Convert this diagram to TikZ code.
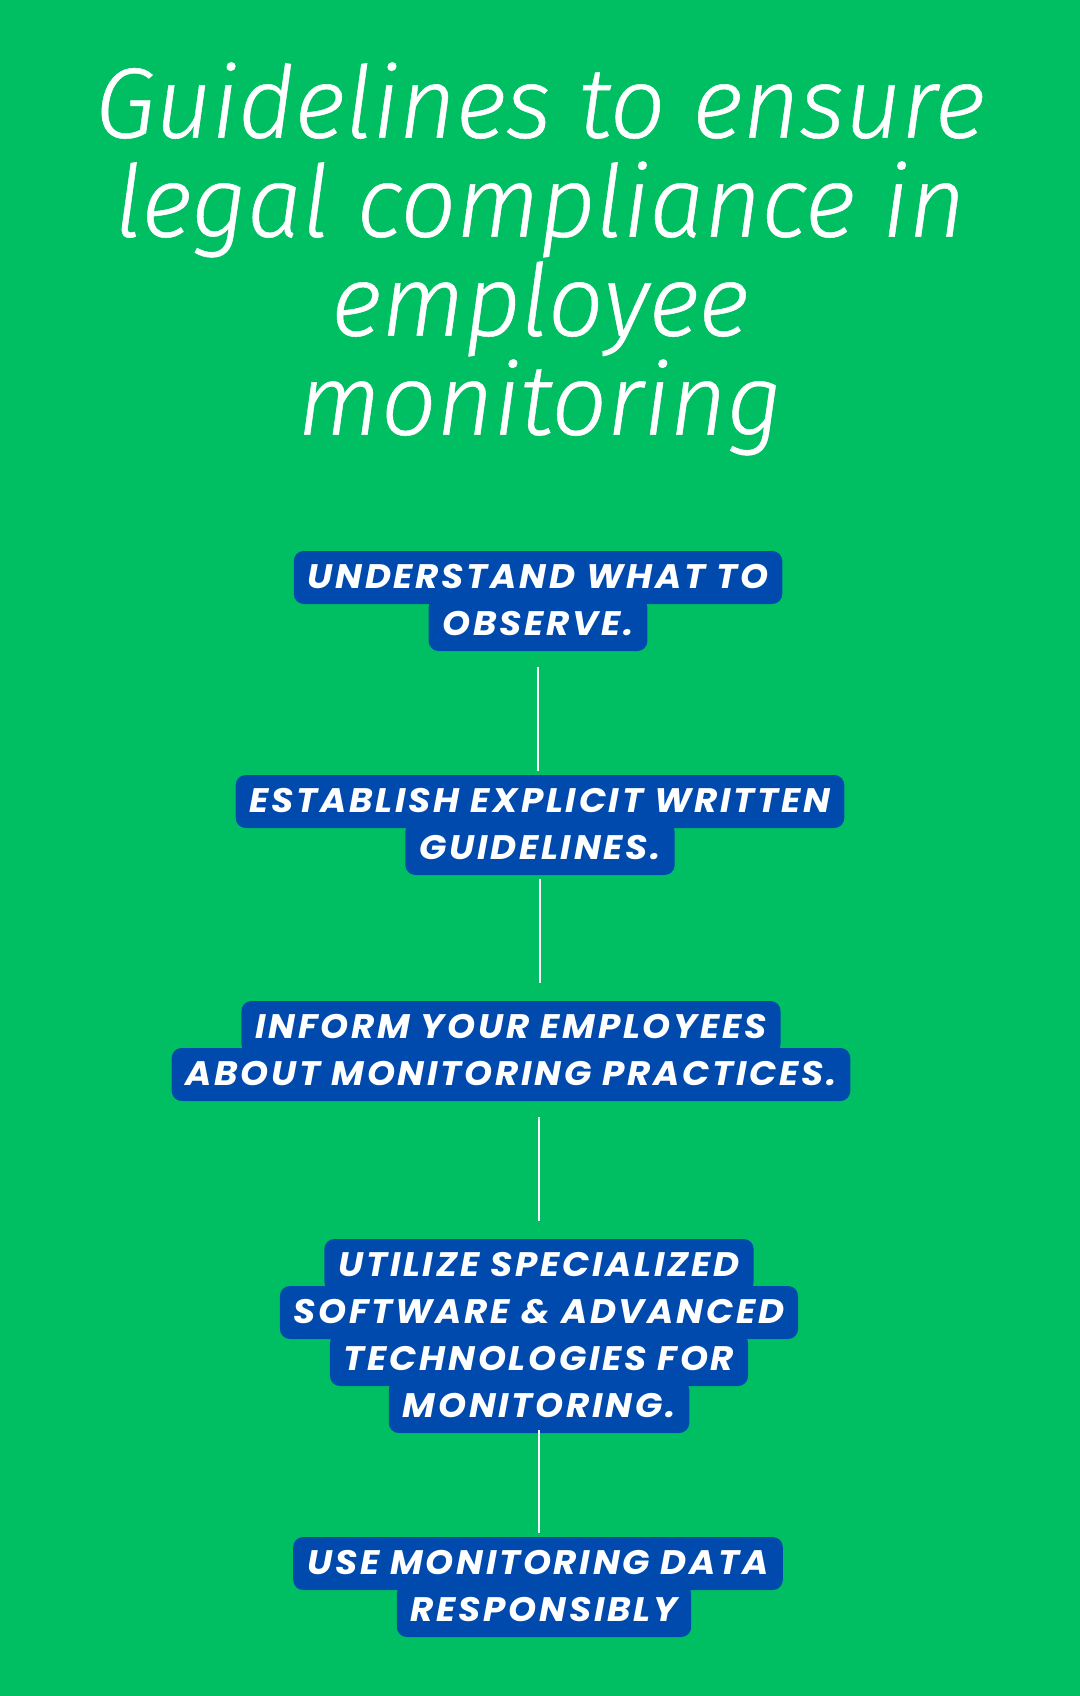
\documentclass[tikz,border=0pt]{standalone}
\usepackage{fontspec}
\usepackage{tikz}
\usetikzlibrary{positioning}
\newfontfamily\titlefont{Fira Sans Light Italic}[FakeStretch=0.98, FakeBold=0.5]
\newfontfamily\stepfont{Poppins}[LetterSpace=8, FakeStretch=1.05]
\definecolor{bggreen}{HTML}{00BF63}
\definecolor{boxblue}{HTML}{004AAD}

\begin{document}
\begin{tikzpicture}[x=0.5pt, y=-0.5pt,
  stepline/.style={fill=boxblue, text=white, rounded corners=5pt, anchor=base,
    font=\stepfont\bfseries\itshape\fontsize{17}{17}\selectfont,
    text height=12pt, text depth=1.5pt, inner xsep=7pt, inner ysep=6.5pt},
  link/.style={draw=white, line width=1.2pt}]
\fill[bggreen] (0,0) rectangle (1080,1696);
\node[font=\titlefont\fontsize{50}{49.5}\selectfont, text=white, align=center, anchor=north, inner sep=0pt] (title) at (540,62)
  {Guidelines to ensure\\legal compliance in\\employee\\monitoring};
% step 1
\node[stepline] (s1a) at (538,588) {UNDERSTAND WHAT TO};
\node[stepline] (s1b) at (538,635) {OBSERVE.};
% step 2
\node[stepline] (s2a) at (540,812) {ESTABLISH EXPLICIT WRITTEN};
\node[stepline] (s2b) at (540,859) {GUIDELINES.};
% step 3
\node[stepline] (s3a) at (511,1038) {INFORM YOUR EMPLOYEES};
\node[stepline] (s3b) at (511,1085) {ABOUT MONITORING PRACTICES.};
% step 4
\node[stepline] (s4a) at (539,1276) {UTILIZE SPECIALIZED};
\node[stepline] (s4b) at (539,1323) {SOFTWARE \& ADVANCED};
\node[stepline] (s4c) at (539,1370) {TECHNOLOGIES FOR};
\node[stepline] (s4d) at (539,1417) {MONITORING.};
% step 5
\node[stepline] (s5a) at (538,1574) {USE MONITORING DATA};
\node[stepline] (s5b) at (544,1621) {RESPONSIBLY};
% links
\draw[link, shorten <=8pt, shorten >=2pt] (s1b.south) -- (s1b.south |- s2a.north);
\draw[link, shorten <=2pt, shorten >=9pt] (s2b.south) -- (s2b.south |- s3a.north);
\draw[link, shorten <=8pt, shorten >=9pt] (s4a.north |- s3b.south) -- (s4a.north);
\draw[link, shorten <=-1.5pt, shorten >=2pt] (s4d.south) -- (s4d.south |- s5a.north);
\end{tikzpicture}
\end{document}
